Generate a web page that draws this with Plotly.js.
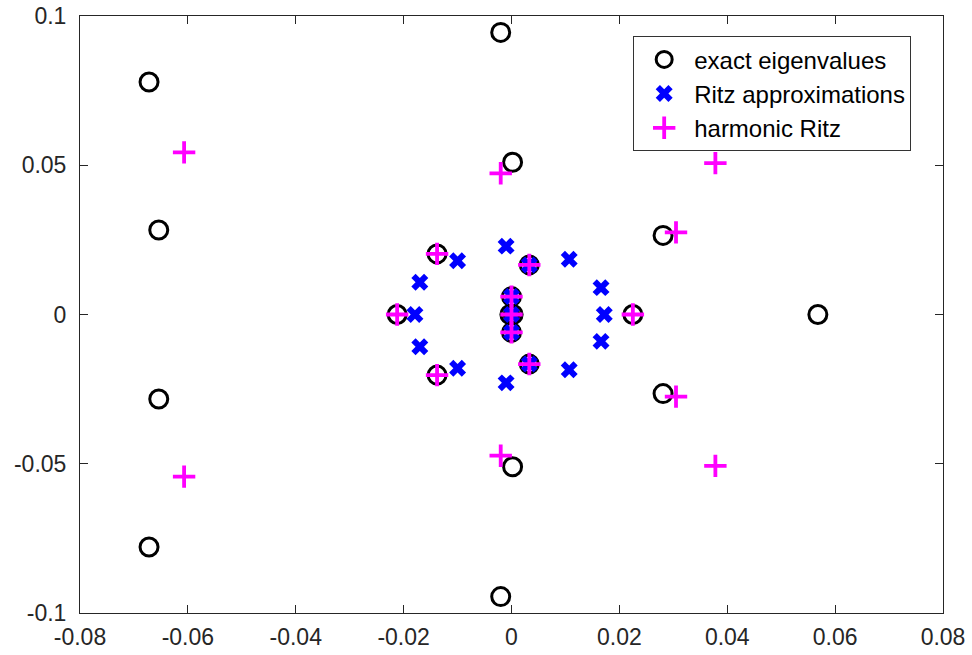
<!DOCTYPE html>
<html>
<head>
<meta charset="utf-8">
<script src="https://cdn.plot.ly/plotly-3.0.1.min.js"></script>
<style>html,body{margin:0;padding:0;background:#fff;}#chart{width:972px;height:655px;}</style>
</head>
<body>
<div id="chart"></div>
<script>
// exact eigenvalues (real, imaginary)
const exactRe = [-0.0672, -0.0654, -0.0654, -0.0672, -0.0020, -0.0020, 0.0002, 0.0002, 0.0281, 0.0281, 0.0568, 0.0225,
                 -0.0212, -0.0138, -0.0138, 0.0033, 0.0033, 0.0000, -0.0003, 0.0003, 0.0000];
const exactIm = [0.0779, 0.0283, -0.0283, -0.0779, 0.0945, -0.0945, 0.0510, -0.0510, 0.0265, -0.0265, 0.0000, 0.0000,
                 0.0000, 0.0203, -0.0203, 0.0166, -0.0166, 0.0060, 0.0000, 0.0000, -0.0060];
// Ritz approximations
const ritzRe = [-0.0010, 0.0107, 0.0166, 0.0172, 0.0166, 0.0107, -0.0010, -0.0100, -0.0170, -0.0179, -0.0170, -0.0100,
                0.0033, 0.0033, 0.0000, 0.0000, 0.0000];
const ritzIm = [0.0229, 0.0185, 0.0090, 0.0000, -0.0090, -0.0185, -0.0229, -0.0180, -0.0108, 0.0000, 0.0108, 0.0180,
                0.0166, -0.0166, 0.0060, 0.0000, -0.0060];
// harmonic Ritz values
const harmRe = [-0.0607, -0.0607, -0.0020, -0.0020, 0.0378, 0.0378, 0.0305, 0.0305,
                -0.0212, -0.0138, -0.0138, 0.0033, 0.0033, 0.0000, 0.0000, 0.0000, 0.0225];
const harmIm = [0.0543, -0.0543, 0.0473, -0.0473, 0.0507, -0.0507, 0.0275, -0.0275,
                0.0000, 0.0203, -0.0203, 0.0166, -0.0166, 0.0060, 0.0000, -0.0060, 0.0000];

const xTickVals = [-0.08, -0.06, -0.04, -0.02, 0, 0.02, 0.04, 0.06, 0.08];
const xTickText = ['-0.08', '-0.06', '-0.04', '-0.02', '0', '0.02', '0.04', '0.06', '0.08'];
const yTickVals = [-0.1, -0.05, 0, 0.05, 0.1];
const yTickText = ['-0.1', '-0.05', '0', '0.05', '0.1'];

const seriesNames = ['exact eigenvalues', 'Ritz approximations', 'harmonic Ritz'];

const traces = [
  {x: exactRe, y: exactIm, mode: 'markers', type: 'scatter', name: seriesNames[0],
   marker: {symbol: 'circle-open', size: 18, color: '#000000', line: {width: 3, color: '#000000'}}},
  {x: ritzRe, y: ritzIm, mode: 'markers', type: 'scatter', name: seriesNames[1],
   marker: {symbol: 'x', size: 15, color: '#0000ff', line: {width: 0}}},
  {x: harmRe, y: harmIm, mode: 'markers', type: 'scatter', name: seriesNames[2],
   marker: {symbol: 'cross-thin-open', size: 16, color: '#ff00ff', line: {width: 3.8, color: '#ff00ff'}}}
];

const axCommon = {
  showgrid: false, zeroline: false, showline: true, linecolor: '#262626', linewidth: 1,
  mirror: 'ticks', ticks: 'inside', ticklen: 8, tickwidth: 1, tickcolor: '#262626',
  tickfont: {family: 'Liberation Sans, Arial, sans-serif', size: 23, color: '#262626'}
};

const layout = {
  width: 972, height: 655,
  margin: {l: 80, r: 29, t: 16, b: 42, pad: 0},
  paper_bgcolor: '#ffffff', plot_bgcolor: '#ffffff',
  showlegend: true,
  xaxis: Object.assign({}, axCommon, {range: [-0.08, 0.08], tickmode: 'array', tickvals: xTickVals, ticktext: xTickText, ticklabelstandoff: 3}),
  yaxis: Object.assign({}, axCommon, {range: [-0.1, 0.1], tickmode: 'array', tickvals: yTickVals, ticktext: yTickText, ticklabelstandoff: 8}),
  legend: {x: 0.641, y: 0.966, xanchor: 'left', yanchor: 'top', bgcolor: '#ffffff',
           bordercolor: '#333333', borderwidth: 1,
           font: {family: 'Liberation Sans, Arial, sans-serif', size: 24, color: '#000000'},
           itemwidth: 50}
};

Plotly.newPlot('chart', traces, layout, {displayModeBar: false, staticPlot: true});
</script>
</body>
</html>
